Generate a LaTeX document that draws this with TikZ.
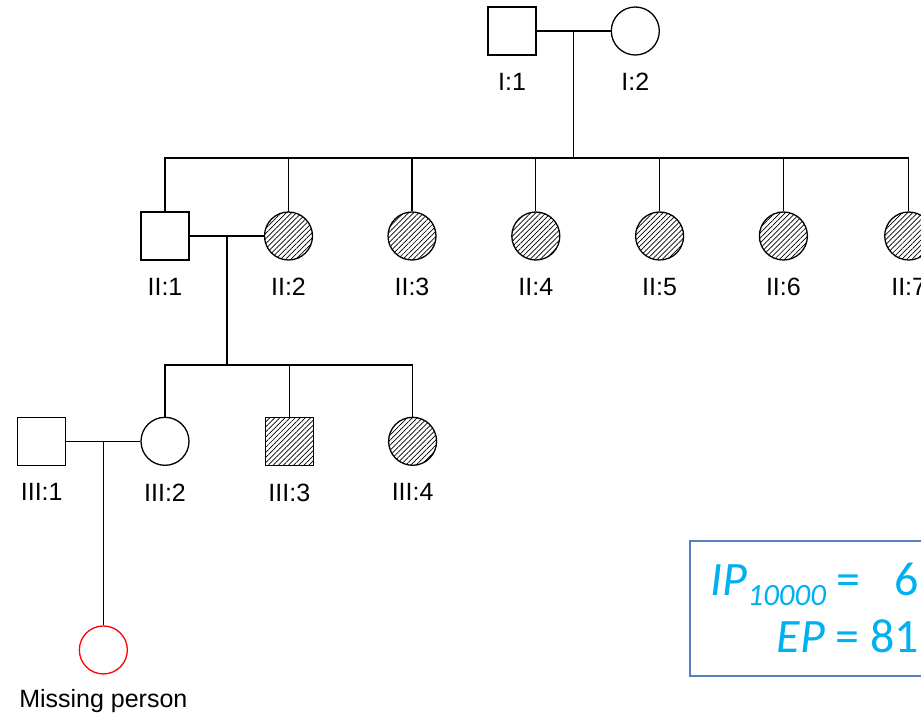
\documentclass[tikz,border=0pt]{standalone}
\usepackage{fontspec}
\setmainfont{Liberation Sans}
\newfontfamily\calibri{Carlito}
\usetikzlibrary{positioning,calc,patterns.meta}
\definecolor{boxblue}{HTML}{5B7FBE}
\definecolor{textblue}{HTML}{00B0F0}
\tikzset{
  male/.style={draw, rectangle, minimum size=48pt, inner sep=0pt},
  female/.style={draw, circle, minimum size=48pt, inner sep=0pt},
  affected/.style={pattern={Lines[angle=45,distance=3.6pt,line width=0.7pt]}},
  missing/.style={female, draw=red},
  every label/.style={font=\fontsize{25}{25}\selectfont, inner sep=0pt}
}

\begin{document}
\begin{tikzpicture}[x=1pt, y=-1pt, line width=1.3pt, label distance=17pt]
    \useasboundingbox (0,0) rectangle (921,713);
    \clip (0,0) rectangle (921,713);
    %Generation I
    \node(I1)[male, label={below:{I:1}}] at (512,31) {};
    \node(I2)[female, right=74pt of I1, label={below:{I:2}}] {};
    %Generation II
    \node(II1)[male, label={below:{II:1}}] at (165,236) {};
    \node(II2)[female, affected, right=74.5pt of II1, label={below:{II:2}}] {};
    \node(II3)[female, affected, right=74.5pt of II2, label={below:{II:3}}] {};
    \node(II4)[female, affected, right=74.5pt of II3, label={below:{II:4}}] {};
    \node(II5)[female, affected, right=74.5pt of II4, label={below:{II:5}}] {};
    \node(II6)[female, affected, right=74.5pt of II5, label={below:{II:6}}] {};
    \node(II7)[female, affected, right=76pt of II6, label={below:{II:7}}] {};
    %Generation III
    \node(III2)[female, below=156pt of II1, label={below:{III:2}}] {};
    \node(III1)[male, left=74pt of III2, label={below:{III:1}}] {};
    \node(III3)[male, affected, right=75pt of III2, label={below:{III:3}}] {};
    \node(III4)[female, affected, right=74pt of III3, label={below:{III:4}}] {};
    %Couples and sibships
    \coordinate (m1) at ($(I1.east)!0.5!(I2.west)$);
    \coordinate (m2) at ($(II1.east)!0.5!(II2.west)$);
    \coordinate (m3) at ($(III1.east)!0.5!(III2.west)$);
    \coordinate (s1) at ($(m1)+(0,127)$);
    \coordinate (s2) at ($(m2)+(0,129)$);
    \node(MP)[missing, below=184pt of m3, label={[label distance=14pt]below:Missing person}] {};
    %Lines
    \draw (I1) -- (I2)
          (m1) -- (s1);
    \draw (II1.north) |- (s1) -| (II7.north);
    \foreach \c in {II2,II3,II4,II5,II6}
        \draw (\c.north) -- (\c.north |- s1);
    \draw (II1) -- (II2)
          (m2) -- (s2);
    \draw (III2.north) |- (s2) -| (III4.north);
    \draw (III3.north) -- (III3.north |- s2);
    \draw (III1) -- (III2)
          (m3) -- (MP);
    %Probabilities
    \node(infobox)[draw=boxblue, line width=2pt, minimum width=270pt, minimum height=135pt, anchor=north west] at (689,540) {};
    \node(ip)[anchor=base west, inner sep=0pt, text=textblue, font=\calibri\fontsize{48}{48}\selectfont] at (710,595)
        {\itshape IP\raisebox{-10pt}{\fontsize{31}{31}\selectfont 10000}\upshape{} =\hspace{34pt}6};
    \node(ep)[anchor=base west, inner sep=0pt, text=textblue, font=\calibri\fontsize{48}{48}\selectfont] at (776,652)
        {\itshape EP\upshape{} = 81};
\end{tikzpicture}
\end{document}
